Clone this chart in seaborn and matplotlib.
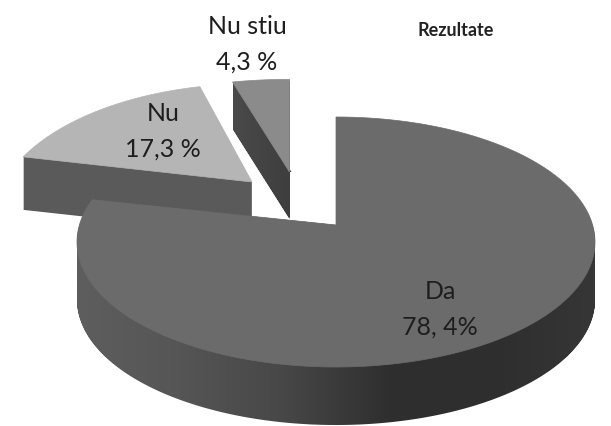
import numpy as np
import seaborn as sns
import matplotlib
matplotlib.use("Agg")
import matplotlib.pyplot as plt
from matplotlib.patches import Polygon, PathPatch
from matplotlib.path import Path

sns.set_theme(style="white")
plt.rcParams['font.family'] = ['Lato', 'DejaVu Sans']

# values
labels = ["Da", "Nu", "Nu stiu"]
values = [78.4, 17.3, 4.3]
label_texts = ["Da\n78, 4%", "Nu\n17,3 %", "Nu stiu\n4,3 %"]
title = "Rezultate"

# style per slice: apex x, apex y, radius x, radius y, perspective, depth
geometry = [(336, 226, 256.6, 122.7, 0.136, 58),
            (252, 183, 248, 125.6, 0.28, 53),
            (289.5, 173, 271, 118.6, 0.28, 47)]
top_colors = ["#6b6b6b", "#b5b5b5", "#8b8b8b"]
wall_colors = [["#5e5e5e", "#555555", "#474747", "#2f2f2f", "#2e2e2e", "#363636"],
               ["#5a5a5a", "#5a5a5a"],
               ["#4a4a4a", "#3e3e3e"]]
label_pos = [(440, 309), (163, 131), (247, 44)]
draw_order = [1, 2, 0]
# thin dark sliver beside the cut edge: slice, which edge point, share of the edge, offset
slivers = [(0, 1, 0.56, -3), (2, -1, 0.52, 2)]


def project(theta1, theta2, geo):
    # wedge outline in pixels, pie angles put through a simple perspective
    cx, cy, rx, ry, c, depth = geo
    t = np.radians(np.linspace(theta1, theta2, 300))
    u = np.r_[0, np.cos(t)]
    v = np.r_[0, np.sin(t)]
    w = 1 + c * v
    return np.c_[cx + rx * u / w, cy - ry * v / w]


fig = plt.figure(figsize=(6.11, 4.27), dpi=100)
ax = fig.add_axes([0, 0, 1, 1])

# the pie gives the angle of each slice, it is then redrawn in 3d
wedges, _ = ax.pie(values, startangle=90, counterclock=False)
angles = [(w.theta1, w.theta2) for w in wedges]
for w in wedges:
    w.remove()

ax.set_aspect('auto')
ax.axis('off')

outlines = {}
for n, i in enumerate(draw_order):
    outline = project(angles[i][0], angles[i][1], geometry[i])
    outlines[i] = outline
    depth = geometry[i][5]

    # side wall = the outline swept downwards, filled with a left-right gradient
    layers = [Path(outline + [0, d], closed=False) for d in range(1, depth + 1)]
    wall = Path.make_compound_path(*layers)
    clip = PathPatch(wall, transform=ax.transData, fc='none', ec='none')
    ax.add_patch(clip)
    cmap = matplotlib.colors.LinearSegmentedColormap.from_list("wall", wall_colors[i])
    x0, x1 = outline[:, 0].min(), outline[:, 0].max()
    y0, y1 = outline[:, 1].min(), outline[:, 1].max() + depth
    im = ax.imshow(np.linspace(0, 1, 256)[None, :], cmap=cmap, aspect='auto',
                   extent=(x0, x1, y1, y0), zorder=1 + n * 2)
    im.set_clip_path(clip)

    ax.add_patch(Polygon(outline, closed=True, fc=top_colors[i], ec=top_colors[i], lw=0.5,
                         zorder=2 + n * 2))

for i, point, share, off in slivers:
    apex = outlines[i][0]
    end = outlines[i][point]
    mid = apex + (end - apex) * share
    ax.add_patch(Polygon([apex, mid, mid + [off, 0], apex + [off, 0]], closed=True,
                         fc=wall_colors[i][-1], ec='none', zorder=1))

ax.set_xlim(0, 611)
ax.set_ylim(427, 0)

for txt, pos in zip(label_texts, label_pos):
    ax.text(pos[0], pos[1], txt, ha='center', va='center', fontsize=18,
            color='#1e1e1e', linespacing=1.65, zorder=20)
ax.text(456, 30, title, ha='center', va='center', fontsize=13, fontweight='bold',
        color='#222222', zorder=20)

fig.savefig("out.png", dpi=100)
